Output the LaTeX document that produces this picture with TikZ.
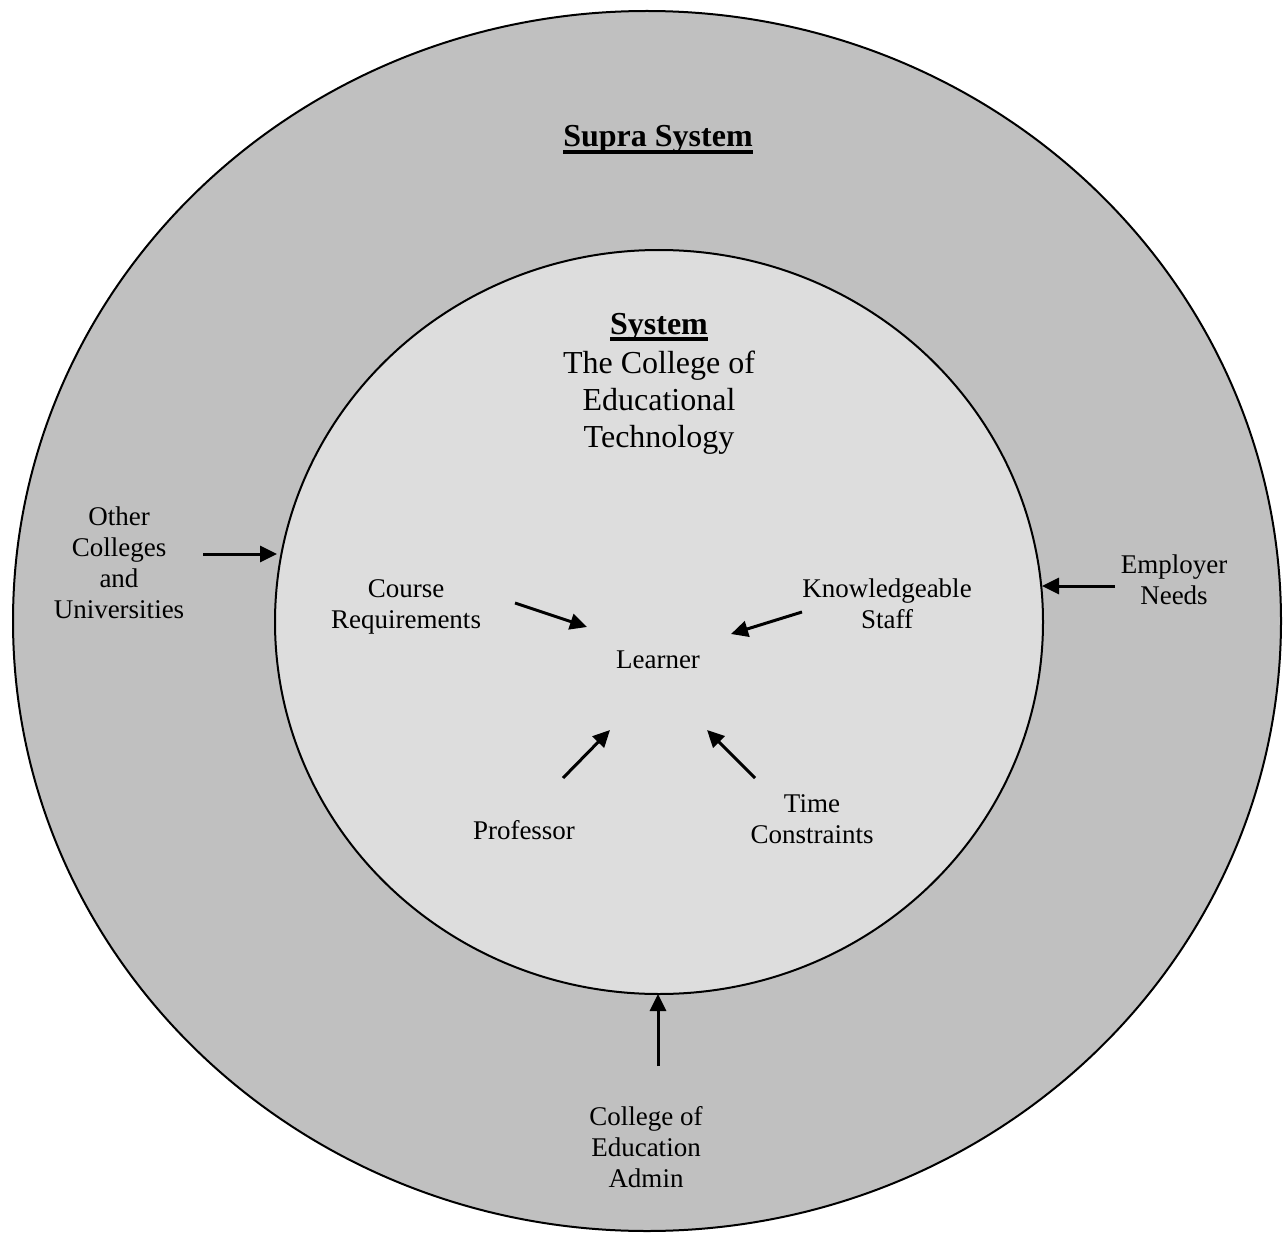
\documentclass[tikz,border=0pt]{standalone}
\usepackage{fontspec}
\setmainfont{Liberation Serif}
\usetikzlibrary{arrows.meta}
\definecolor{outerg}{RGB}{192,192,192}
\definecolor{innerg}{RGB}{221,221,221}
\newcommand\thul[1]{\setbox0\hbox{#1}\rlap{\vrule width\wd0 height -3pt depth 7pt}\box0}
\begin{document}
\begin{tikzpicture}[x=1pt,y=-1pt,
  ring/.style={draw=black,line width=2pt},
  lbl/.style={align=center,font=\fontsize{27}{31}\selectfont,inner sep=0pt,anchor=north},
  big/.style={align=center,font=\fontsize{32}{37}\selectfont,inner sep=0pt},
  arr/.style={line width=3pt,-{Triangle[length=17pt,width=16pt]}}]
\useasboundingbox (0,0) rectangle (1285,1233);
\draw[ring,fill=outerg] (647,621) ellipse [x radius=634, y radius=610];
\draw[ring,fill=innerg] (659,622) ellipse [x radius=384, y radius=372];

\node[big,anchor=base,font=\fontsize{32}{37}\selectfont\bfseries] (supra) at (658,147) {\thul{Supra System}};
\node[big,anchor=north] (system) at (659,313) {\thul{\bfseries System}\\[2pt]The College of\\Educational\\Technology};

\node[lbl] (other) at (119,507) {Other\\Colleges\\and\\Universities};
\node[lbl] (employer) at (1174,555) {Employer\\Needs};
\node[lbl] (admin) at (646,1106) {College of\\Education\\Admin};
\node[lbl] (course) at (406,579) {Course\\Requirements};
\node[lbl] (staff) at (887,579) {Knowledgeable\\Staff};
\node[lbl] (learner) at (658,651) {Learner};
\node[lbl] (prof) at (524,820) {Professor};
\node[lbl] (time) at (812,794) {Time\\Constraints};

\coordinate (o1) at (203,554); \coordinate (o2) at (277,554);
\coordinate (e1) at (1115,586); \coordinate (e2) at (1042,586);
\coordinate (a1) at (658,1066); \coordinate (a2) at (658,994);
\coordinate (c1) at (515,603); \coordinate (c2) at (587,627);
\coordinate (s1) at (802,612); \coordinate (s2) at (731,634);
\coordinate (p1) at (563,778); \coordinate (p2) at (610,730);
\coordinate (t1) at (755,778); \coordinate (t2) at (707,730);

\draw[arr] (o1) -- (o2);
\draw[arr] (e1) -- (e2);
\draw[arr] (a1) -- (a2);
\draw[arr] (c1) -- (c2);
\draw[arr] (s1) -- (s2);
\draw[arr] (p1) -- (p2);
\draw[arr] (t1) -- (t2);
\end{tikzpicture}
\end{document}
